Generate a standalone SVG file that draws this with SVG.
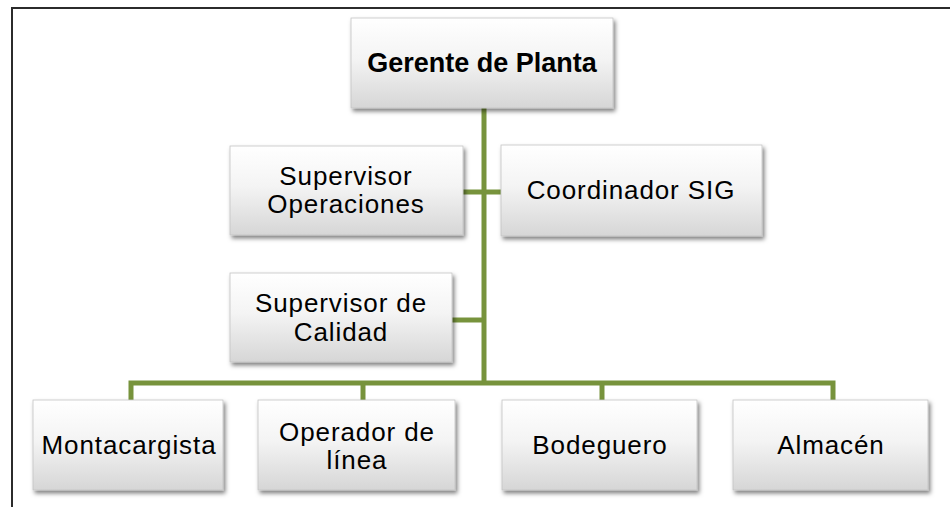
<svg xmlns="http://www.w3.org/2000/svg" width="950" height="507" viewBox="0 0 950 507">
<defs>
<linearGradient id="g" x1="0" y1="0" x2="0" y2="1">
<stop offset="0" stop-color="#ffffff"/>
<stop offset="0.45" stop-color="#f4f4f4"/>
<stop offset="1" stop-color="#d6d6d6"/>
</linearGradient>
<filter id="sh" x="-10%" y="-10%" width="125%" height="130%">
<feDropShadow dx="2" dy="3" stdDeviation="2" flood-color="#000" flood-opacity="0.5"/>
</filter>
</defs>
<style>
.box{fill:url(#g);stroke:#c4c4c4;stroke-width:0.8;filter:url(#sh)}
.t{font-family:"Liberation Sans",Arial,sans-serif;font-size:26px;fill:#000;text-anchor:middle;letter-spacing:0.9px}
.b{font-weight:bold;font-size:27px;letter-spacing:0}
.c{fill:none;stroke:#77933C;stroke-width:5}
.frame{fill:none;stroke:#2b2b2b;stroke-width:2}
</style>
<rect width="950" height="507" fill="#ffffff"/>
<path class="frame" d="M12,507 V8 H950"/>
<g id="connectors">
<path class="c" d="M484,108 V383"/>
<path class="c" d="M463,192 H501"/>
<path class="c" d="M452,320 H484"/>
<path class="c" d="M131,400 V383 H833 V400"/>
<path class="c" d="M363,383 V400"/>
<path class="c" d="M602,383 V400"/>
</g>
<g id="gerente">
<rect class="box" x="351" y="18" width="262" height="90"/>
<text class="t b" x="482" y="72">Gerente de Planta</text>
</g>
<g id="supervisor-operaciones">
<rect class="box" x="230" y="146" width="233" height="89"/>
<text class="t" x="346" y="185">Supervisor</text>
<text class="t" x="346" y="213">Operaciones</text>
</g>
<g id="coordinador-sig">
<rect class="box" x="501" y="145" width="261" height="91"/>
<text class="t" x="631" y="199">Coordinador SIG</text>
</g>
<g id="supervisor-calidad">
<rect class="box" x="230" y="273" width="222" height="89"/>
<text class="t" x="341" y="312">Supervisor de</text>
<text class="t" x="341" y="341">Calidad</text>
</g>
<g id="montacargista">
<rect class="box" x="33" y="400" width="190" height="90"/>
<text class="t" x="129" y="454">Montacargista</text>
</g>
<g id="operador-linea">
<rect class="box" x="258" y="400" width="197" height="90"/>
<text class="t" x="357" y="441">Operador de</text>
<text class="t" x="357" y="469">línea</text>
</g>
<g id="bodeguero">
<rect class="box" x="502" y="400" width="195" height="90"/>
<text class="t" x="600" y="454">Bodeguero</text>
</g>
<g id="almacen">
<rect class="box" x="733" y="400" width="195" height="90"/>
<text class="t" x="831" y="454">Almacén</text>
</g>
</svg>
